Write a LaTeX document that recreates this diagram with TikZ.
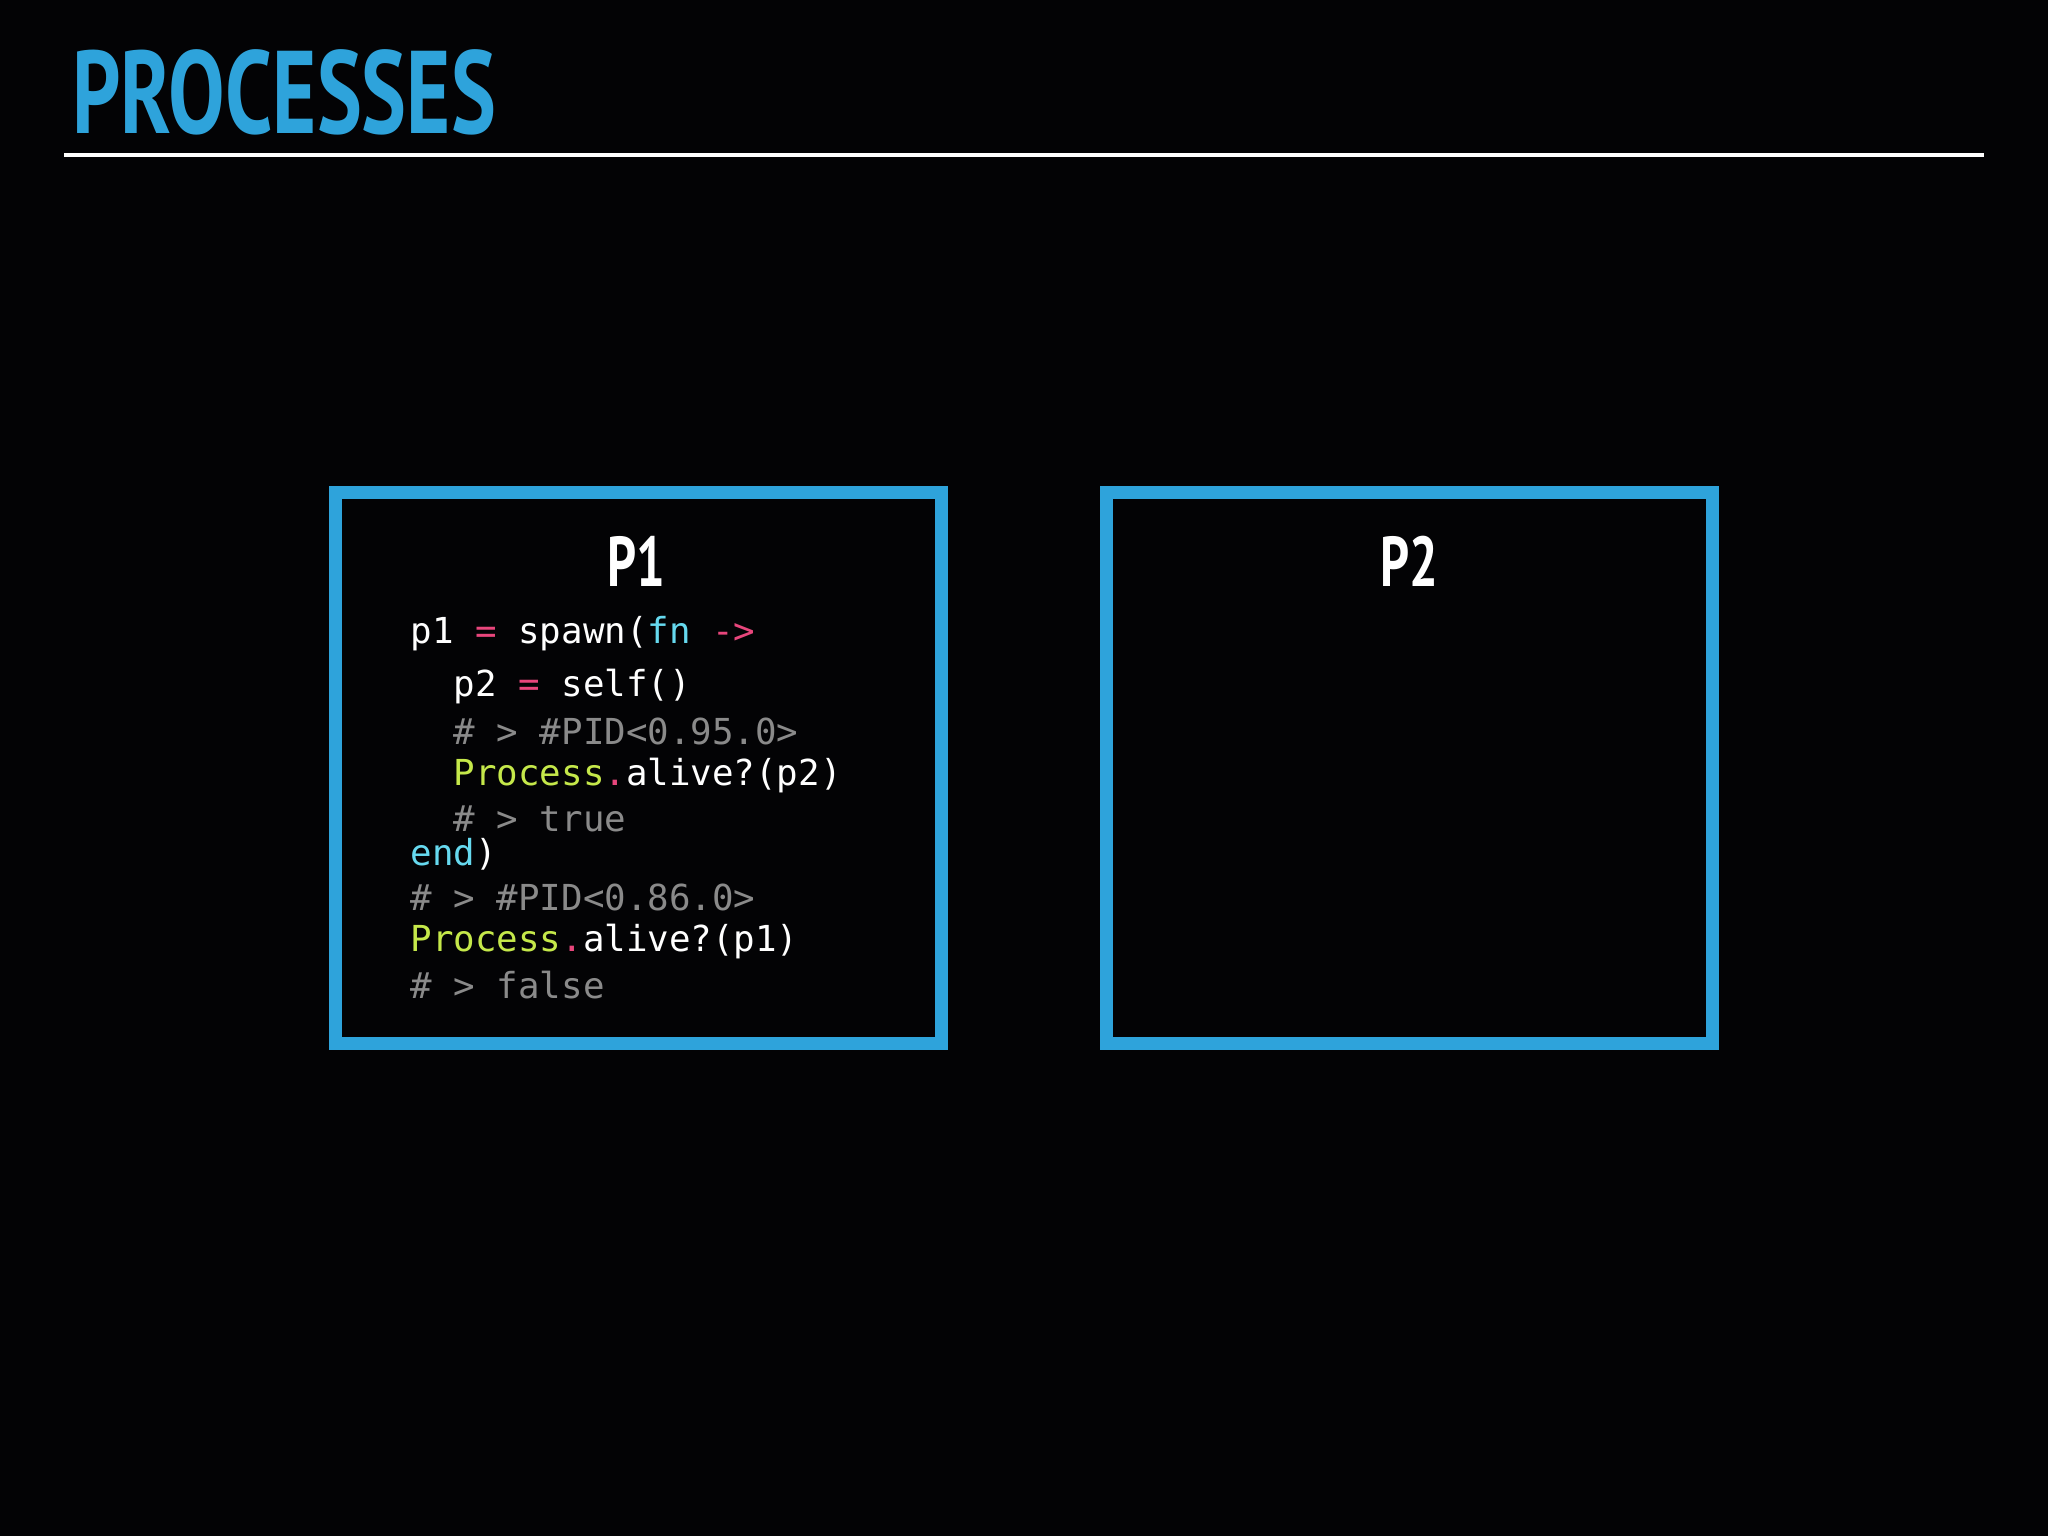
\documentclass[tikz,border=0pt]{standalone}
\usepackage{fontspec}
\setmainfont{PT Sans}
\newfontfamily\headfont[FakeStretch=0.72]{PT Sans Bold}
\newfontfamily\codefont{DejaVu Sans Mono}
\definecolor{bg}{HTML}{030305}
\definecolor{blu}{HTML}{2EA3DB}
\definecolor{pk}{HTML}{E8467C}
\definecolor{cy}{HTML}{66D9EF}
\definecolor{gr}{HTML}{C5E84A}
\definecolor{cm}{HTML}{8A8A8A}
\begin{document}
\begin{tikzpicture}[x=0.5pt,y=-0.5pt,
  codeline/.style={anchor=west,inner sep=0,text=white,font=\codefont\fontsize{13.7}{14}\selectfont},
  ptitle/.style={text=white,font=\headfont\fontsize{27}{30}\selectfont},
  pbox/.style={draw=blu,line width=5pt}]
\fill[bg] (0,0) rectangle (1568,1176);
\useasboundingbox (0,0) rectangle (1568,1176);
\node[anchor=west,inner sep=0,text=blu,font=\headfont\fontsize{45}{48}\selectfont] (title) at (55,71) {PROCESSES};
\coordinate (l1) at (49,119); \coordinate (l2) at (1519,119);
\draw[white,line width=1.5pt] (l1) -- (l2);
\draw[pbox] (257,377) rectangle (721,799);
\draw[pbox] (847,377) rectangle (1311,799);
\node[ptitle] (t1) at (487,430) {P1};
\node[ptitle] (t2) at (1079,430) {P2};
\node[codeline] (c1) at (314,485) {p1 \textcolor{pk}{=} spawn(\textcolor{cy}{fn} \textcolor{pk}{->}};
\node[codeline] (c2) at (314,526) {\phantom{xx}p2 \textcolor{pk}{=} self()};
\node[codeline,text=cm] (c3) at (314,560) {\phantom{xx}\# > \#PID<0.95.0>};
\node[codeline] (c4) at (314,594) {\phantom{xx}\textcolor{gr}{Process}\textcolor{pk}{.}alive?(p2)};
\node[codeline,text=cm] (c5) at (314,627) {\phantom{xx}\# > true};
\node[codeline] (c6) at (314,654) {\textcolor{cy}{end})};
\node[codeline,text=cm] (c7) at (314,687) {\# > \#PID<0.86.0>};
\node[codeline] (c8) at (314,721) {\textcolor{gr}{Process}\textcolor{pk}{.}alive?(p1)};
\node[codeline,text=cm] (c9) at (314,754) {\# > false};
\end{tikzpicture}
\end{document}
